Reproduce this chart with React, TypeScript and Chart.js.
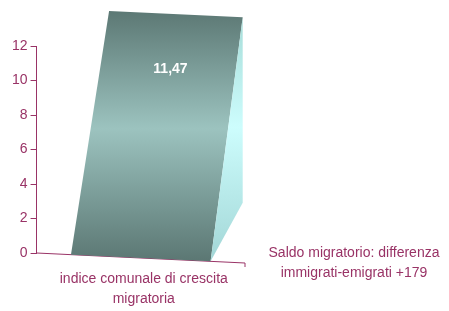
import React, { useEffect, useRef } from "react";
import { Chart, registerables } from "chart.js";

Chart.register(...registerables);

const categories: string[][] = [["indice comunale di crescita", "migratoria"]];
const values: number[] = [11.47];
const seriesLabel = "Saldo migratorio: differenza\nimmigrati-emigrati +179";
const yTicks = { min: 0, max: 12, step: 2 };

const AXIS_COLOR = "#993366";
const FONT = "'Liberation Sans', Arial, sans-serif";

const bar3dPlugin = {
  id: "bar3d",
  beforeDatasetsDraw(chart: any) {
    const { ctx, chartArea } = chart;
    const slope = 10 / (chartArea.right - chartArea.left);
    ctx.save();
    ctx.strokeStyle = AXIS_COLOR;
    ctx.lineWidth = 1;
    ctx.beginPath();
    ctx.moveTo(chartArea.left, chartArea.bottom);
    const ry = chartArea.bottom + (chartArea.right - chartArea.left) * slope;
    ctx.lineTo(chartArea.right, ry);
    ctx.lineTo(chartArea.right, ry + 4);
    ctx.stroke();
    ctx.restore();
  },
  afterDatasetsDraw(chart: any) {
    const { ctx, chartArea } = chart;
    const meta = chart.getDatasetMeta(0);
    const slope = 10 / (chartArea.right - chartArea.left);
    const yAt = (px: number, yv: number) => yv + (px - chartArea.left) * slope;
    meta.data.forEach((el: any, i: number) => {
      const p = el.getProps(["x", "y", "base", "width"], true);
      const left = p.x - p.width / 2;
      const right = p.x + p.width / 2;
      const h = p.base - p.y;
      const skew = h * 0.143;
      const topHalf = (p.width / 2) * 0.957;
      const tlx = p.x + skew - topHalf;
      const trx = p.x + skew + topHalf;
      const TL = [tlx, yAt(tlx, p.y)];
      const TR = [trx, yAt(trx, p.y)];
      const BL = [left, yAt(left, p.base)];
      const BR = [right, yAt(right, p.base)];

      // front face
      const g = ctx.createLinearGradient(0, TL[1], 0, BR[1]);
      g.addColorStop(0, "#5c7874");
      g.addColorStop(0.47, "#9cc3bf");
      g.addColorStop(1, "#5b7773");
      ctx.save();
      ctx.fillStyle = g;
      ctx.beginPath();
      ctx.moveTo(TL[0], TL[1]);
      ctx.lineTo(TR[0], TR[1]);
      ctx.lineTo(BR[0], BR[1]);
      ctx.lineTo(BL[0], BL[1]);
      ctx.closePath();
      ctx.fill();

      // side face
      const backY = BR[1] - 0.24 * (BR[1] - TR[1]);
      const g2 = ctx.createLinearGradient(0, TR[1], 0, BR[1]);
      g2.addColorStop(0, "#a6dcd8");
      g2.addColorStop(0.45, "#cdfdfd");
      g2.addColorStop(1, "#a2d6d6");
      ctx.fillStyle = g2;
      ctx.beginPath();
      ctx.moveTo(TR[0], TR[1]);
      ctx.lineTo(TR[0], backY);
      ctx.lineTo(BR[0], BR[1]);
      ctx.closePath();
      ctx.fill();

      // value label
      const v = chart.data.datasets[0].data[i] as number;
      const txt = v.toFixed(2).replace(".", ",");
      const ly = TL[1] + 0.24 * (BL[1] - TL[1]);
      const lx = p.x + skew * (1 - 0.24) + 3;
      ctx.fillStyle = "#ffffff";
      ctx.font = `bold 14px ${FONT}`;
      ctx.textAlign = "center";
      ctx.textBaseline = "middle";
      ctx.fillText(txt, lx, ly);
      ctx.restore();
    });
  },
  afterDraw(chart: any) {
    const { ctx, chartArea } = chart;
    const lines = String(chart.data.datasets[0].label).split("\n");
    ctx.save();
    ctx.fillStyle = AXIS_COLOR;
    ctx.font = `14px ${FONT}`;
    ctx.textAlign = "center";
    ctx.textBaseline = "middle";
    lines.forEach((ln: string, k: number) => {
      ctx.fillText(ln, chartArea.right + 109, chartArea.bottom + k * 20);
    });
    ctx.restore();
  },
};

export default function App() {
  const ref = useRef<HTMLCanvasElement | null>(null);
  useEffect(() => {
    if (!ref.current) return;
    const chart = new Chart(ref.current, {
      type: "bar",
      data: {
        labels: categories as any,
        datasets: [
          {
            label: seriesLabel,
            data: values,
            yAxisID: "front",
            backgroundColor: "rgba(0,0,0,0)",
            borderWidth: 0,
            categoryPercentage: 1,
            barPercentage: 0.67,
          } as any,
        ],
      },
      options: {
        animation: false,
        responsive: false,
        layout: { padding: { left: 9, right: 204, top: 46, bottom: 2 } },
        plugins: {
          legend: { display: false },
          tooltip: { enabled: false },
        },
        scales: {
          x: {
            type: "category",
            grid: { display: false, drawTicks: false },
            border: { display: false },
            ticks: {
              color: AXIS_COLOR,
              font: { family: FONT, size: 14, lineHeight: 1.43 },
              padding: 16,
              labelOffset: 3,
              maxRotation: 0,
              autoSkip: false,
            },
            afterFit: (scale: any) => {
              scale.height = 56;
            },
          },
          y: {
            min: yTicks.min,
            max: yTicks.max,
            position: "left",
            ticks: {
              stepSize: yTicks.step,
              color: AXIS_COLOR,
              font: { family: FONT, size: 14 },
              padding: 3,
            },
            grid: { drawOnChartArea: false, tickLength: 6, color: AXIS_COLOR },
            border: { color: AXIS_COLOR, width: 1 },
          },
          front: {
            display: false,
            min: 0,
            max: 9.67,
          },
        },
      },
      plugins: [bar3dPlugin],
    });
    return () => chart.destroy();
  }, []);
  return (
    <div style={{ position: "fixed", left: 0, top: 0, width: 449, height: 311, background: "#fff" }}>
      <canvas ref={ref} width={449} height={311} style={{ display: "block" }} />
    </div>
  );
}
